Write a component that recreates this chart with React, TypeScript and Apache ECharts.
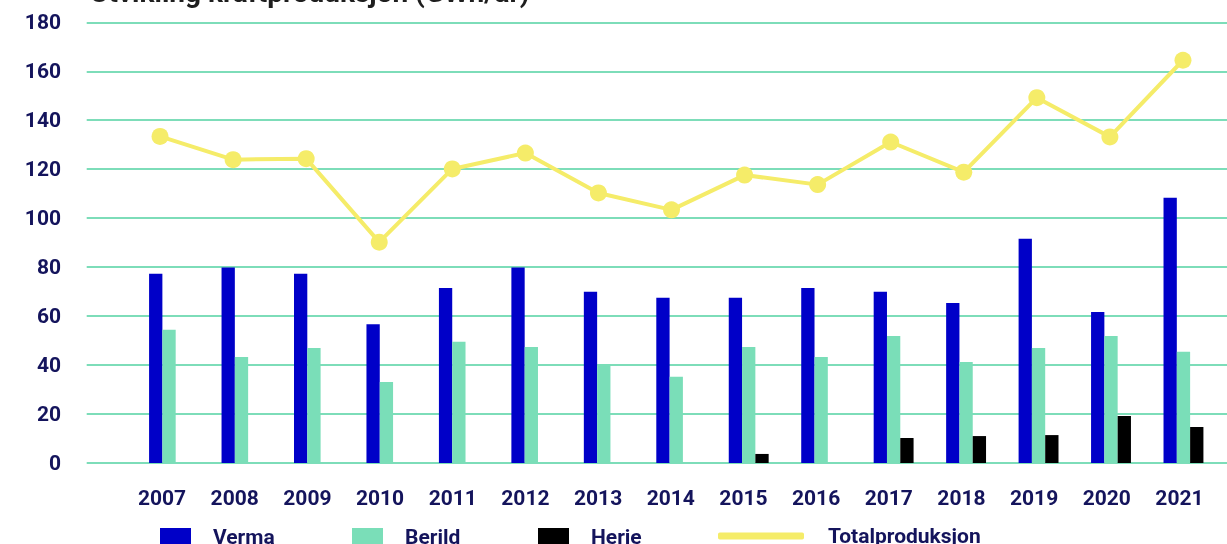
import React, { useEffect, useRef } from "react";
import * as echarts from "echarts";

const years = ["2007", "2008", "2009", "2010", "2011", "2012", "2013", "2014", "2015", "2016", "2017", "2018", "2019", "2020", "2021"];
const verma = [77.3, 79.8, 77.3, 56.7, 71.5, 79.8, 69.9, 67.5, 67.5, 71.5, 69.9, 65.4, 91.6, 61.7, 108.3];
const berild = [54.4, 43.3, 47.0, 33.1, 49.5, 47.4, 40.3, 35.2, 47.4, 43.3, 51.9, 41.3, 47.0, 51.9, 45.4];
const herje = [0, 0, 0, 0, 0, 0, 0, 0, 3.7, 0, 10.2, 11.0, 11.4, 19.2, 14.7];
const total = [133.4, 123.9, 124.3, 90.2, 120.1, 126.6, 110.3, 103.4, 117.6, 113.7, 131.1, 118.8, 149.2, 133.2, 164.5];
const yTicks = { min: 0, max: 180, interval: 20 };
const titleText = "Utvikling kraftproduksjon (GWh/år)";

const NAVY = "#14145C";
const FONT = "Roboto";

export default function App() {
  const ref = useRef<HTMLDivElement>(null);
  useEffect(() => {
    if (!ref.current) return;
    const chart = echarts.init(ref.current, null, { renderer: "svg" });
    const legendText = { fontFamily: FONT, fontSize: 21, fontWeight: "bold", color: NAVY, lineHeight: 19 };
    const hiddenY = (g: number) => ({
      type: "value",
      gridIndex: g,
      min: yTicks.min,
      max: yTicks.max,
      interval: yTicks.interval,
      show: false,
      splitLine: { show: false },
    });
    chart.setOption({
      animation: false,
      title: {
        text: titleText,
        left: 90,
        top: -22,
        padding: 0,
        textStyle: { fontFamily: FONT, fontSize: 28, fontWeight: "bold", color: "#1E1E1E", lineHeight: 28 },
      },
      grid: [
        { left: 86.7, right: 0, top: 22.3, bottom: 81 },
        { left: 125.7, right: 11.2, top: 22.3, bottom: 81 },
        { left: 132.8, right: 7.3, top: 22.3, bottom: 81 },
        { left: 123.5, right: 7.5, top: 22.3, bottom: 81 },
      ],
      xAxis: [
        { type: "category", gridIndex: 0, data: years, show: false },
        {
          type: "category",
          gridIndex: 1,
          data: years,
          axisLine: { show: false },
          axisTick: { show: false },
          axisLabel: { fontFamily: FONT, fontSize: 21, fontWeight: "bold", color: NAVY, margin: 24 },
        },
        { type: "category", gridIndex: 2, data: years, show: false },
        { type: "category", gridIndex: 3, data: years, show: false },
      ],
      yAxis: [
        {
          type: "value",
          gridIndex: 0,
          min: yTicks.min,
          max: yTicks.max,
          interval: yTicks.interval,
          axisLine: { show: false },
          axisTick: { show: false },
          axisLabel: { fontFamily: FONT, fontSize: 21, fontWeight: "bold", color: NAVY, margin: 25.7 },
          splitLine: { lineStyle: { color: "#7DDDB9", width: 2 } },
        },
        hiddenY(1),
        hiddenY(2),
        hiddenY(3),
      ],
      legend: [
        { left: 160, top: 526.5, padding: 0, itemWidth: 31, itemHeight: 18, icon: "rect", data: ["Verma"], textStyle: { ...legendText, padding: [0, 0, 0, 17] } },
        { left: 352, top: 526.5, padding: 0, itemWidth: 31, itemHeight: 18, icon: "rect", data: ["Berild"], textStyle: { ...legendText, padding: [0, 0, 0, 17] } },
        { left: 538, top: 526.5, padding: 0, itemWidth: 31, itemHeight: 18, icon: "rect", data: ["Herje"], textStyle: { ...legendText, padding: [0, 0, 0, 17] } },
        {
          left: 718,
          top: 525.5,
          padding: 0,
          itemWidth: 86,
          itemHeight: 7,
          icon: "roundRect",
          itemStyle: { color: "#F5EC69", borderWidth: 0 },
          data: ["Totalproduksjon"],
          textStyle: { ...legendText, padding: [0, 0, 0, 19] },
        },
      ],
      series: [
        { name: "Verma", type: "bar", xAxisIndex: 2, yAxisIndex: 2, data: verma, barWidth: 13.3, barGap: "0%", itemStyle: { color: "#0000C8" } },
        { name: "Berild", type: "bar", xAxisIndex: 2, yAxisIndex: 2, data: berild, barWidth: 13.3, barGap: "0%", itemStyle: { color: "#7ADEB8" } },
        { name: "Herje", type: "bar", xAxisIndex: 2, yAxisIndex: 2, data: herje, barWidth: 13.3, barGap: "0%", itemStyle: { color: "#000000" } },
        {
          name: "Totalproduksjon",
          type: "line",
          xAxisIndex: 3,
          yAxisIndex: 3,
          data: total,
          symbol: "circle",
          symbolSize: 17,
          z: 5,
          lineStyle: { color: "#F5EC69", width: 4 },
          itemStyle: { color: "#F5EC69" },
        },
      ],
    });
    return () => chart.dispose();
  }, []);
  return <div ref={ref} style={{ width: 1227, height: 544, position: "fixed", left: 0, top: 0 }} />;
}
